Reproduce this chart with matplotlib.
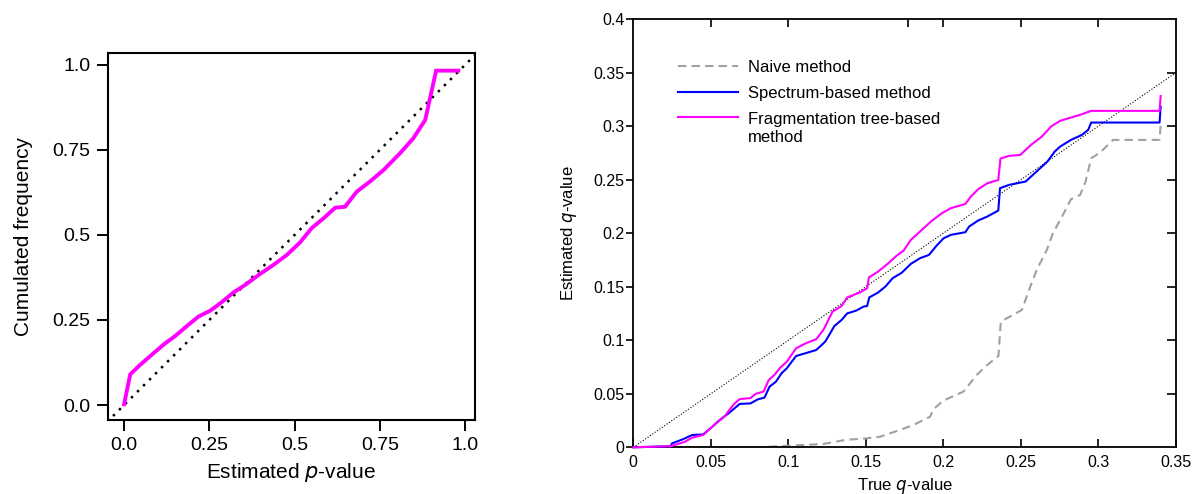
import matplotlib
matplotlib.use("Agg")
import matplotlib.pyplot as plt
import matplotlib.transforms as mtransforms
from matplotlib.legend_handler import HandlerLine2D

plt.rcParams['font.family'] = ['Liberation Sans', 'DejaVu Sans']

# ---------------- Left panel data ----------------
p_values = [0.0, 0.018, 0.047, 0.086, 0.12, 0.15, 0.184, 0.218, 0.252, 0.282,
            0.321, 0.355, 0.394, 0.438, 0.477, 0.516, 0.55, 0.585, 0.619, 0.648,
            0.682, 0.721, 0.761, 0.809, 0.848, 0.883, 0.915, 0.98]
cum_freq = [0.002, 0.09, 0.118, 0.152, 0.181, 0.203, 0.232, 0.26, 0.277, 0.299,
            0.331, 0.353, 0.382, 0.412, 0.441, 0.478, 0.52, 0.549, 0.58, 0.583,
            0.627, 0.657, 0.691, 0.74, 0.784, 0.838, 0.983, 0.983]
left_ticks = [0.0, 0.25, 0.5, 0.75, 1.0]
left_ticklabels = ["0.0", "0.25", "0.5", "0.75", "1.0"]

# ---------------- Right panel data ----------------
frag_x = [0, 0.0146, 0.024, 0.033, 0.038, 0.045, 0.05, 0.054, 0.059, 0.062, 0.065,
          0.0686, 0.0756, 0.079, 0.084, 0.0874, 0.091, 0.0944, 0.099, 0.105, 0.111,
          0.118, 0.1226, 0.1285, 0.1344, 0.1379, 0.146, 0.1508, 0.152, 0.1578, 0.165,
          0.1696, 0.1743, 0.179, 0.1849, 0.1919, 0.199, 0.2048, 0.2142, 0.2177, 0.2224,
          0.2283, 0.2354, 0.2368, 0.2424, 0.2495, 0.2565, 0.2635, 0.2694, 0.2753,
          0.2823, 0.2882, 0.2953, 0.3394, 0.3401]
frag_y = [0, 0.0006, 0.001, 0.005, 0.009, 0.0115, 0.018, 0.023, 0.029, 0.035, 0.0405,
          0.045, 0.046, 0.050, 0.052, 0.063, 0.0676, 0.0738, 0.080, 0.0925, 0.097,
          0.101, 0.1096, 0.1267, 0.132, 0.140, 0.1445, 0.1485, 0.1588, 0.164, 0.1725,
          0.1787, 0.1837, 0.1937, 0.2015, 0.2108, 0.2186, 0.2233, 0.2273, 0.2342, 0.241,
          0.2466, 0.2497, 0.2697, 0.2722, 0.273, 0.2824, 0.2902, 0.2996, 0.3049,
          0.308, 0.3105, 0.3142, 0.3142, 0.328]

spec_x = [0, 0.024, 0.025, 0.032, 0.038, 0.045, 0.05, 0.0557, 0.0615, 0.0686, 0.0756,
          0.0803, 0.0846, 0.0879, 0.092, 0.0956, 0.099, 0.105, 0.111, 0.118, 0.1238,
          0.1297, 0.1344, 0.1379, 0.1438, 0.1485, 0.1508, 0.1522, 0.1578, 0.1625,
          0.1673, 0.1731, 0.179, 0.1849, 0.1907, 0.1954, 0.2001, 0.2048, 0.2142,
          0.2166, 0.2224, 0.2283, 0.2354, 0.2365, 0.2424, 0.253, 0.2589, 0.2671,
          0.2718, 0.2753, 0.2823, 0.2894, 0.2934, 0.2953, 0.3394, 0.3401]
spec_y = [0, 0.001, 0.0037, 0.0075, 0.0115, 0.012, 0.018, 0.0255, 0.0318, 0.0405, 0.041,
          0.0448, 0.0464, 0.0567, 0.0613, 0.0691, 0.0738, 0.0853, 0.0878, 0.0909, 0.0987,
          0.1133, 0.119, 0.125, 0.1277, 0.1314, 0.132, 0.140, 0.1445, 0.150,
          0.158, 0.163, 0.1713, 0.1766, 0.1797, 0.188, 0.1952, 0.1984, 0.2009,
          0.2062, 0.2118, 0.2155, 0.2211, 0.242, 0.2451, 0.2482, 0.256, 0.2669,
          0.2762, 0.2809, 0.2871, 0.2918, 0.2965, 0.3033, 0.3033, 0.318]

naive_x = [0, 0.0803, 0.1015, 0.1226, 0.1367, 0.1508, 0.1592, 0.172, 0.1806, 0.1914,
           0.1935, 0.2, 0.2129, 0.2172, 0.2215, 0.2283, 0.2355, 0.237, 0.2448, 0.2506,
           0.2548, 0.2602, 0.2667, 0.2706, 0.2765, 0.2823, 0.2882, 0.2917, 0.2953,
           0.3011, 0.3094, 0.3394, 0.3401]
naive_y = [0, 0, 0.0016, 0.0031, 0.0069, 0.0084, 0.0099, 0.0162, 0.0208, 0.0286,
           0.0355, 0.0436, 0.052, 0.0598, 0.0676, 0.0769, 0.0853, 0.1174, 0.1236, 0.1283,
           0.1454, 0.1657, 0.1844, 0.1999, 0.2155, 0.2317, 0.2357, 0.2482, 0.270,
           0.2753, 0.2871, 0.2871, 0.301]

right_xticks = [0, 0.05, 0.1, 0.15, 0.2, 0.25, 0.3, 0.35]
right_yticks = [0, 0.05, 0.1, 0.15, 0.2, 0.25, 0.3, 0.35, 0.4]
top_ticks = [0.05, 0.1, 0.177, 0.2, 0.25, 0.3]


class ShiftedLineHandler(HandlerLine2D):
    """Legend handle drawn level with the first line of a two-line label."""
    def __init__(self, shift, **kw):
        super().__init__(**kw)
        self.shift = shift

    def create_artists(self, legend, orig_handle, xdescent, ydescent, width,
                       height, fontsize, trans):
        t = mtransforms.Affine2D().translate(0, self.shift) + trans
        return super().create_artists(legend, orig_handle, xdescent, ydescent,
                                      width, height, fontsize, t)


W, H = 1192, 494
fig = plt.figure(figsize=(W / 100, H / 100), dpi=100)

# ---------------- Left panel ----------------
axL = fig.add_axes([107.7 / W, 1 - 420 / H, (475 - 107.7) / W, (420 - 53.3) / H])
axL.plot([-0.05, 1.04], [-0.05, 1.04], color='black', lw=1.8,
         linestyle=(0, (1, 2.4)))
axL.plot(p_values, cum_freq, color='#FF00FF', lw=2.8, solid_joinstyle='miter')
axL.set_xlim(-0.048, 1.029)
axL.set_ylim(-0.044, 1.034)
axL.set_xticks(left_ticks)
axL.set_xticklabels(left_ticklabels)
axL.set_yticks(left_ticks)
axL.set_yticklabels(left_ticklabels)
axL.tick_params(direction='out', length=8, width=1.4, labelsize=14, pad=4.5,
                colors='black')
for s in axL.spines.values():
    s.set_linewidth(1.5)
axL.set_xlabel('Estimated $\\it{p}$-value', fontsize=15, labelpad=5)
axL.set_ylabel('Cumulated frequency', fontsize=15, labelpad=14)

# ---------------- Right panel ----------------
axR = fig.add_axes([633.3 / W, 1 - 447.3 / H, (1176 - 633.3) / W, (447.3 - 19) / H])
axR.plot([0, 0.35], [0, 0.35], color='black', lw=0.8, linestyle=(0, (1, 1.6)))
ln_naive, = axR.plot(naive_x, naive_y, color='#A0A0A0', lw=1.5,
                     linestyle=(0, (4, 2.5)), label='Naive method')
ln_spec, = axR.plot(spec_x, spec_y, color='#0000FF', lw=1.5, zorder=3,
                    clip_on=False, label='Spectrum-based method')
ln_frag, = axR.plot(frag_x, frag_y, color='#FF00FF', lw=1.5, zorder=3.1,
                    clip_on=False, label='Fragmentation tree-based\nmethod')
axR.set_xlim(0, 0.35)
axR.set_ylim(0, 0.4)
axR.set_xticks(right_xticks)
axR.set_xticklabels(['%g' % v for v in right_xticks])
axR.set_yticks(right_yticks)
axR.set_yticklabels(['%g' % v for v in right_yticks])
axR.tick_params(axis='x', direction='in', length=5.5, width=1.2, labelsize=11.5, pad=5.5)
axR.tick_params(axis='y', direction='out', length=5, width=1.2, labelsize=11.5, pad=1.5)
for s in axR.spines.values():
    s.set_linewidth(1.3)

secR = axR.secondary_yaxis('right')
secR.set_yticks(right_yticks[1:-1])
secR.tick_params(direction='in', length=6.5, width=1.2, labelright=False)
secR.spines['right'].set_visible(False)

secT = axR.secondary_xaxis('top')
secT.set_xticks(top_ticks)
secT.tick_params(direction='in', length=6, width=1.2, labeltop=False)
secT.spines['top'].set_visible(False)

axR.set_xlabel('True $\\it{q}$-value', fontsize=12, labelpad=4.5)
axR.set_ylabel('Estimated $\\it{q}$-value', fontsize=12, labelpad=10)

leg = axR.legend(loc='upper left', bbox_to_anchor=(0.082, 0.904), frameon=False,
                 fontsize=12, handlelength=3.6, handletextpad=0.6,
                 borderpad=0, borderaxespad=0, labelspacing=0.65,
                 handler_map={ln_frag: ShiftedLineHandler(shift=7.9)})
leg.get_texts()[2].set_linespacing(1.25)

fig.savefig('out.png', dpi=100)
